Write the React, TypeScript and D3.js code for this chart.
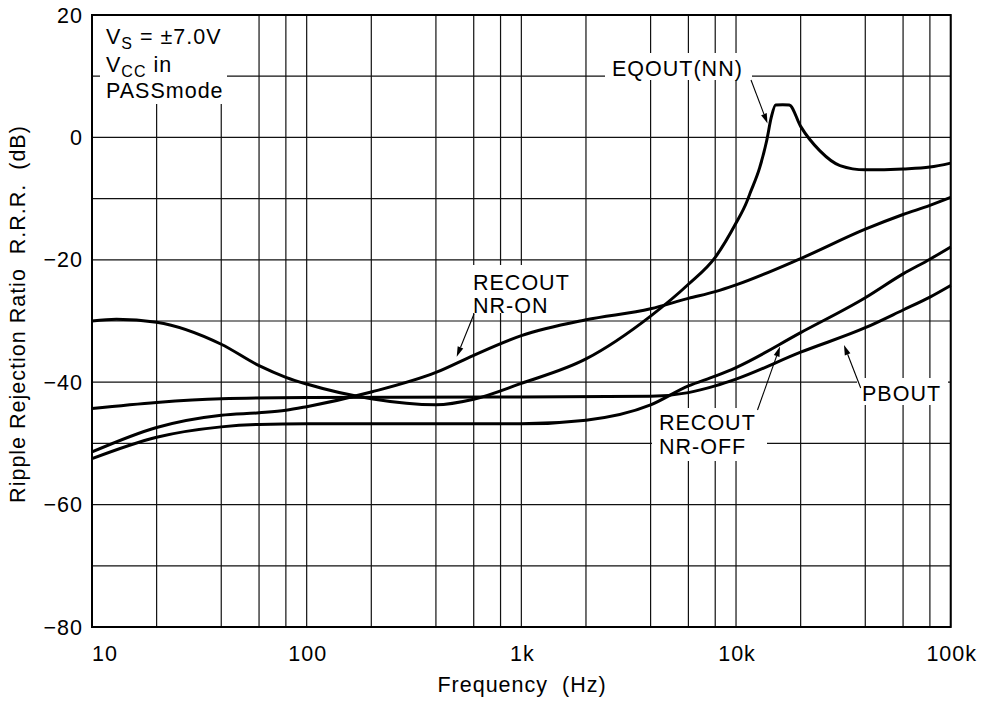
import React from "react";
import * as d3 from "d3";

// ---- data (frequency in Hz, ripple rejection in dB) ----
const eqFreq = [10, 13, 20, 40, 60, 80, 100, 200, 400, 600, 1000, 2000, 4000, 6000, 8000, 10000, 11200, 11600, 12900, 13900, 14600, 15300, 16500, 17700, 20000, 24600, 30500, 40000, 60000, 80000, 100000];
const eqDb = [-30.0, -29.7, -30.2, -33.8, -37.3, -39.2, -40.3, -42.7, -43.7, -42.8, -40.2, -36.2, -29.2, -24.0, -19.6, -14.0, -10.6, -9.2, -4.9, -0.5, 3.3, 5.3, 5.35, 5.3, 1.8, -2.2, -4.6, -5.3, -5.15, -4.85, -4.2];

const nrOnFreq = [10, 20, 40, 60, 80, 100, 200, 400, 600, 1000, 2000, 4000, 6000, 8000, 10000, 20000, 40000, 60000, 80000, 100000];
const nrOnDb = [-51.4, -47.4, -45.4, -45.0, -44.6, -44.0, -41.6, -38.4, -35.6, -32.4, -29.8, -28.0, -26.3, -25.2, -24.1, -19.8, -15.0, -12.6, -11.1, -9.8];

const nrOffFreq = [10, 20, 40, 60, 100, 1000, 2000, 4000, 6000, 8000, 10000, 20000, 40000, 60000, 80000, 100000];
const nrOffDb = [-52.5, -49.0, -47.3, -46.9, -46.8, -46.8, -46.2, -43.7, -40.6, -39.0, -37.6, -31.9, -26.2, -22.3, -19.9, -17.9];

const pbFreq = [10, 20, 40, 100, 1000, 4000, 6000, 8000, 10000, 20000, 40000, 60000, 80000, 100000];
const pbDb = [-44.3, -43.3, -42.7, -42.5, -42.4, -42.3, -41.7, -40.6, -39.5, -35.1, -31.1, -28.2, -26.1, -24.2];

const xGrid = [10, 20, 40, 60, 80, 100, 200, 400, 600, 800, 1000, 2000, 4000, 6000, 8000, 10000, 20000, 40000, 60000, 80000, 100000];
const yGrid = [-80, -70, -60, -50, -40, -30, -20, -10, 0, 10, 20];
const xTicks = [10, 100, 1000, 10000, 100000];
const xTickLabels = ["10", "100", "1k", "10k", "100k"];
const yTicks = [20, 0, -20, -40, -60, -80];
const yTickLabels = ["20", "0", "\u221220", "\u221240", "\u221260", "\u221280"];

const FONT = "'Liberation Sans', Arial, Helvetica, sans-serif";
const FS = 21.5;
const LS = 1;

export default function App() {
  const x = d3.scaleLog().domain([10, 100000]).range([92, 950.7]);
  const y = d3.scaleLinear().domain([-80, 20]).range([627, 15]);
  const line = d3
    .line<[number, number]>()
    .x((d) => x(d[0]))
    .y((d) => y(d[1]))
    .curve(d3.curveMonotoneX);
  const series = [
    d3.zip(eqFreq, eqDb) as [number, number][],
    d3.zip(nrOnFreq, nrOnDb) as [number, number][],
    d3.zip(nrOffFreq, nrOffDb) as [number, number][],
    d3.zip(pbFreq, pbDb) as [number, number][],
  ];
  const x0 = x(10), x1 = x(100000), y0 = y(-80), y1 = y(20);
  const txt = { fontFamily: FONT, fontSize: FS, letterSpacing: LS, fill: "#000" } as const;

  const arrow = (ax: number, ay: number, bx: number, by: number, k: number) => {
    const ang = Math.atan2(by - ay, bx - ax);
    const L = 10, W = 3;
    const cx = bx - L * Math.cos(ang), cy = by - L * Math.sin(ang);
    const px = -Math.sin(ang) * W, py = Math.cos(ang) * W;
    return (
      <g key={k}>
        <line x1={ax} y1={ay} x2={cx} y2={cy} stroke="#000" strokeWidth={1.1} />
        <path d={`M${bx},${by}L${cx + px},${cy + py}L${cx - px},${cy - py}Z`} fill="#000" />
      </g>
    );
  };

  return (
    <svg width={986} height={702} style={{ position: "absolute", left: 0, top: 0, background: "#fff" }}>
      <rect x={0} y={0} width={986} height={702} fill="#fff" />
      {/* grid */}
      {xGrid.map((f, i) => (
        <line key={"vx" + i} x1={x(f)} x2={x(f)} y1={y1} y2={y0} stroke="#111" strokeWidth={1.2} />
      ))}
      {yGrid.map((v, i) => (
        <line key={"hy" + i} x1={x0} x2={x1} y1={y(v)} y2={y(v)} stroke="#111" strokeWidth={1.2} />
      ))}
      {/* label backgrounds */}
      <rect x={100} y={16} width={127} height={88} fill="#fff" />
      <rect x={605} y={53} width={147} height={27} fill="#fff" />
      <rect x={470} y={265} width={82} height={48} fill="#fff" />
      <rect x={652} y={408} width={115} height={53} fill="#fff" />
      <rect x={857} y={378} width={91} height={27} fill="#fff" />
      {/* curves */}
      {series.map((s, i) => (
        <path key={"s" + i} d={line(s) || ""} fill="none" stroke="#000" strokeWidth={3} strokeLinejoin="round" />
      ))}
      {/* frame */}
      <rect x={x0} y={y1} width={x1 - x0} height={y0 - y1} fill="none" stroke="#000" strokeWidth={2} />
      {/* y ticks */}
      {yTicks.map((v, i) => (
        <text key={"yt" + i} x={83} y={y(v) + 7.6} textAnchor="end" style={txt}>
          {yTickLabels[i]}
        </text>
      ))}
      {/* x ticks */}
      {xTicks.map((f, i) => (
        <text key={"xt" + i} x={i === 0 ? x(f) : x(f) + 1} y={661} textAnchor={i === 0 ? "start" : "middle"} style={txt}>
          {xTickLabels[i]}
        </text>
      ))}
      <text x={522} y={692} textAnchor="middle" style={txt}>
        Frequency{"\u00a0\u00a0"}(Hz)
      </text>
      <text transform="translate(25,314) rotate(-90)" textAnchor="middle" style={txt}>
        Ripple Rejection Ratio{"\u00a0\u00a0"}R.R.R.{"\u00a0\u00a0"}(dB)
      </text>
      {/* condition text */}
      <text x={106} y={44} style={txt}>
        V<tspan fontSize={16} dy={5}>S</tspan>
        <tspan dy={-5}> = ±7.0V</tspan>
      </text>
      <text x={106} y={72} style={txt}>
        V<tspan fontSize={16} dy={5}>CC</tspan>
        <tspan dy={-5}> in</tspan>
      </text>
      <text x={106} y={97.5} style={txt}>PASSmode</text>
      {/* curve labels */}
      <text x={612} y={75.5} style={txt}>EQOUT(NN)</text>
      <text x={473} y={289.5} style={txt}>RECOUT</text>
      <text x={473} y={312.5} style={txt}>NR-ON</text>
      <text x={659} y={430} style={txt}>RECOUT</text>
      <text x={659} y={454} style={txt}>NR-OFF</text>
      <text x={862} y={401} style={txt}>PBOUT</text>
      {/* arrows */}
      {arrow(751, 80, 767.5, 123.5, 1)}
      {arrow(474, 314, 456.7, 356.7, 2)}
      {arrow(757.5, 410, 780, 346.5, 3)}
      {arrow(860.7, 388, 844, 345, 4)}
    </svg>
  );
}
